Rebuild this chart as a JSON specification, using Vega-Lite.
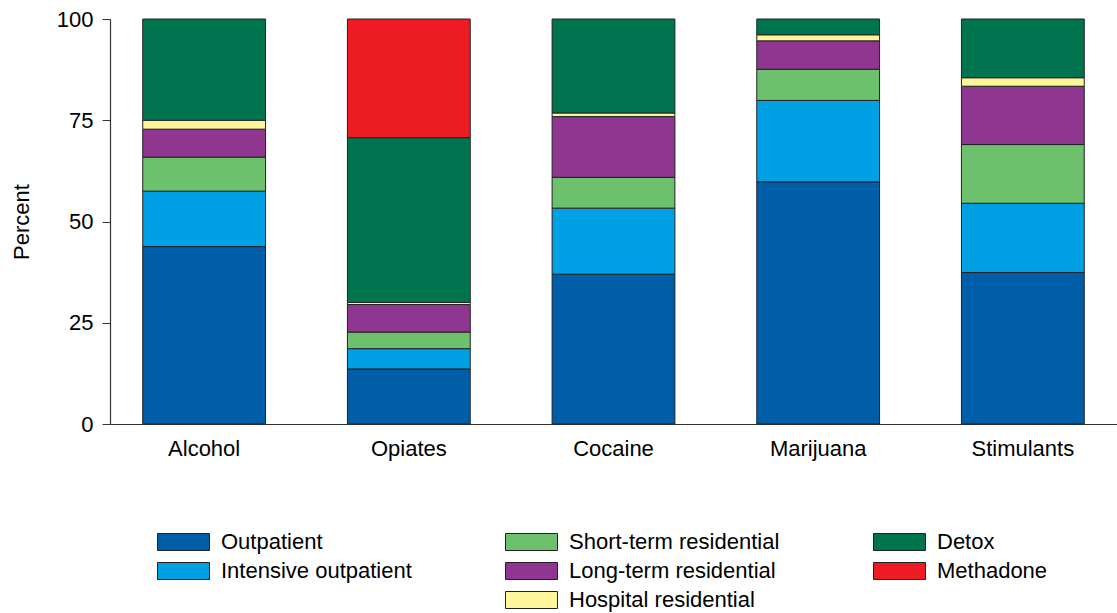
{
  "$schema": "https://vega.github.io/schema/vega-lite/v6.json",
  "width": 1007,
  "height": 405,
  "autosize": {"type": "none"},
  "padding": {"left": 110, "top": 19, "right": 0, "bottom": 189},
  "background": "white",
  "config": {
    "font": "Liberation Sans",
    "view": {"stroke": null}
  },
  "data": {
    "values": [
      {"drug": "Alcohol", "type": "Outpatient", "level": 1, "pct": 43.8},
      {"drug": "Alcohol", "type": "Intensive outpatient", "level": 2, "pct": 13.7},
      {"drug": "Alcohol", "type": "Short-term residential", "level": 3, "pct": 8.4},
      {"drug": "Alcohol", "type": "Long-term residential", "level": 4, "pct": 6.9},
      {"drug": "Alcohol", "type": "Hospital residential", "level": 5, "pct": 2.2},
      {"drug": "Alcohol", "type": "Detox", "level": 6, "pct": 25.0},
      {"drug": "Opiates", "type": "Outpatient", "level": 1, "pct": 13.6},
      {"drug": "Opiates", "type": "Intensive outpatient", "level": 2, "pct": 5.0},
      {"drug": "Opiates", "type": "Short-term residential", "level": 3, "pct": 4.1},
      {"drug": "Opiates", "type": "Long-term residential", "level": 4, "pct": 6.8},
      {"drug": "Opiates", "type": "Hospital residential", "level": 5, "pct": 0.5},
      {"drug": "Opiates", "type": "Detox", "level": 6, "pct": 40.7},
      {"drug": "Opiates", "type": "Methadone", "level": 7, "pct": 29.3},
      {"drug": "Cocaine", "type": "Outpatient", "level": 1, "pct": 37.0},
      {"drug": "Cocaine", "type": "Intensive outpatient", "level": 2, "pct": 16.3},
      {"drug": "Cocaine", "type": "Short-term residential", "level": 3, "pct": 7.6},
      {"drug": "Cocaine", "type": "Long-term residential", "level": 4, "pct": 15.0},
      {"drug": "Cocaine", "type": "Hospital residential", "level": 5, "pct": 0.9},
      {"drug": "Cocaine", "type": "Detox", "level": 6, "pct": 23.2},
      {"drug": "Marijuana", "type": "Outpatient", "level": 1, "pct": 59.8},
      {"drug": "Marijuana", "type": "Intensive outpatient", "level": 2, "pct": 20.1},
      {"drug": "Marijuana", "type": "Short-term residential", "level": 3, "pct": 7.7},
      {"drug": "Marijuana", "type": "Long-term residential", "level": 4, "pct": 7.0},
      {"drug": "Marijuana", "type": "Hospital residential", "level": 5, "pct": 1.5},
      {"drug": "Marijuana", "type": "Detox", "level": 6, "pct": 3.9},
      {"drug": "Stimulants", "type": "Outpatient", "level": 1, "pct": 37.4},
      {"drug": "Stimulants", "type": "Intensive outpatient", "level": 2, "pct": 17.1},
      {"drug": "Stimulants", "type": "Short-term residential", "level": 3, "pct": 14.5},
      {"drug": "Stimulants", "type": "Long-term residential", "level": 4, "pct": 14.4},
      {"drug": "Stimulants", "type": "Hospital residential", "level": 5, "pct": 2.1},
      {"drug": "Stimulants", "type": "Detox", "level": 6, "pct": 14.5}
    ]
  },
  "mark": {"type": "bar", "stroke": "#222222", "strokeWidth": 1},
  "encoding": {
    "x": {
      "field": "drug",
      "type": "nominal",
      "sort": ["Alcohol", "Opiates", "Cocaine", "Marijuana", "Stimulants"],
      "scale": {"paddingInner": 0.4, "paddingOuter": 0.16},
      "axis": {
        "title": null,
        "labelAngle": 0,
        "ticks": false,
        "labelPadding": 14,
        "labelFontSize": 22,
        "labelColor": "#000000",
        "domainColor": "#333333",
        "domainWidth": 1.2
      }
    },
    "y": {
      "field": "pct",
      "type": "quantitative",
      "stack": "zero",
      "scale": {"domain": [0, 100], "nice": false},
      "axis": {
        "title": "Percent",
        "titleFontSize": 22,
        "titleFontWeight": "normal",
        "titleColor": "#000000",
        "titlePadding": 23,
        "values": [0, 25, 50, 75, 100],
        "grid": false,
        "tickSize": 8,
        "tickColor": "#333333",
        "domainColor": "#333333",
        "domainWidth": 1.2,
        "labelPadding": 9,
        "labelFontSize": 22,
        "labelColor": "#000000"
      }
    },
    "color": {
      "field": "type",
      "type": "nominal",
      "scale": {
        "domain": ["Outpatient", "Short-term residential", "Detox", "Intensive outpatient", "Long-term residential", "Methadone", " ", "Hospital residential"],
        "range": ["#005DA8", "#6DC06C", "#00744F", "#00A1E4", "#8E3690", "#ED1C24", "#FFFFFF", "#FFF59A"]
      },
      "legend": {
        "title": null,
        "orient": "none",
        "legendX": 45,
        "legendY": 512,
        "direction": "horizontal",
        "columns": 3,
        "columnPadding": 91,
        "rowPadding": 7,
        "padding": 0,
        "symbolType": "M-1,-1H5.118V1H-1Z",
        "symbolSize": 289,
        "symbolStrokeColor": "#222222",
        "symbolStrokeWidth": 1,
        "symbolOpacity": 1,
        "labelFontSize": 22,
        "labelColor": "#000000",
        "labelOffset": 44,
        "labelLimit": 400,
        "encode": {
          "symbols": {
            "update": {
              "stroke": {"signal": "datum.value === ' ' ? 'transparent' : '#222222'"}
            }
          }
        }
      }
    },
    "order": {"field": "level", "type": "quantitative", "sort": "ascending"}
  }
}
